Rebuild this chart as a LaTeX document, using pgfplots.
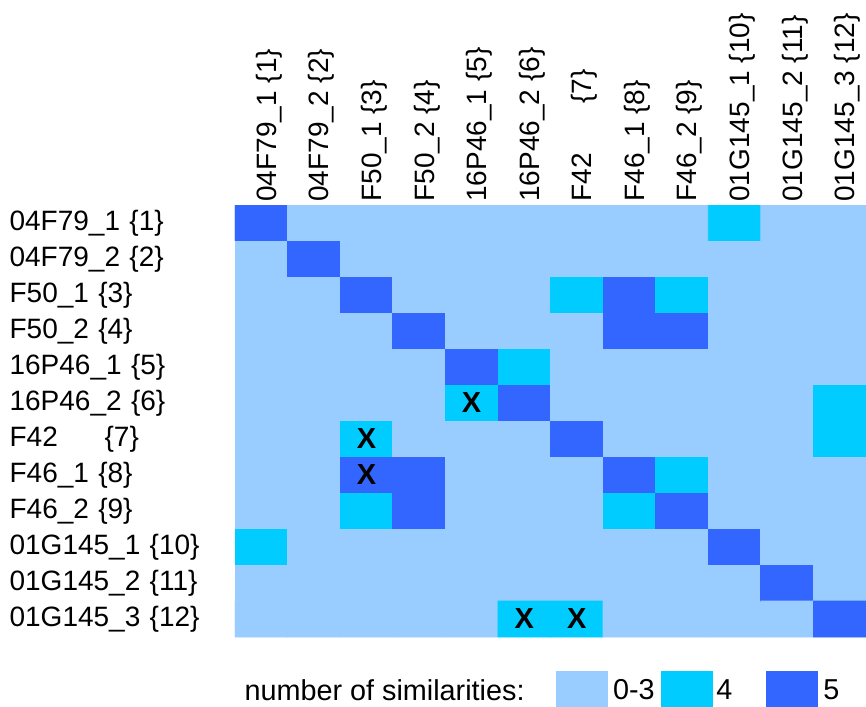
\documentclass[border=0pt]{standalone}
\usepackage{fontspec}
\setmainfont{Liberation Sans}
\usepackage{pgfplots}
\usepackage{pgfplotstable}
\pgfplotsset{compat=1.18}
\definecolor{cLow}{RGB}{153,204,255}
\definecolor{cMid}{RGB}{0,204,255}
\definecolor{cHigh}{RGB}{51,102,255}
\newcommand{\fsz}{\fontsize{14}{16.8}\selectfont}
% c: 0 = 0-3 similarities, 1 = 4, 2 = 5
\pgfplotstableread[row sep=\\]{
x y c\\
1 1 2\\ 2 1 0\\ 3 1 0\\ 4 1 0\\ 5 1 0\\ 6 1 0\\ 7 1 0\\ 8 1 0\\ 9 1 0\\ 10 1 1\\ 11 1 0\\ 12 1 0\\
1 2 0\\ 2 2 2\\ 3 2 0\\ 4 2 0\\ 5 2 0\\ 6 2 0\\ 7 2 0\\ 8 2 0\\ 9 2 0\\ 10 2 0\\ 11 2 0\\ 12 2 0\\
1 3 0\\ 2 3 0\\ 3 3 2\\ 4 3 0\\ 5 3 0\\ 6 3 0\\ 7 3 1\\ 8 3 2\\ 9 3 1\\ 10 3 0\\ 11 3 0\\ 12 3 0\\
1 4 0\\ 2 4 0\\ 3 4 0\\ 4 4 2\\ 5 4 0\\ 6 4 0\\ 7 4 0\\ 8 4 2\\ 9 4 2\\ 10 4 0\\ 11 4 0\\ 12 4 0\\
1 5 0\\ 2 5 0\\ 3 5 0\\ 4 5 0\\ 5 5 2\\ 6 5 1\\ 7 5 0\\ 8 5 0\\ 9 5 0\\ 10 5 0\\ 11 5 0\\ 12 5 0\\
1 6 0\\ 2 6 0\\ 3 6 0\\ 4 6 0\\ 5 6 1\\ 6 6 2\\ 7 6 0\\ 8 6 0\\ 9 6 0\\ 10 6 0\\ 11 6 0\\ 12 6 1\\
1 7 0\\ 2 7 0\\ 3 7 1\\ 4 7 0\\ 5 7 0\\ 6 7 0\\ 7 7 2\\ 8 7 0\\ 9 7 0\\ 10 7 0\\ 11 7 0\\ 12 7 1\\
1 8 0\\ 2 8 0\\ 3 8 2\\ 4 8 2\\ 5 8 0\\ 6 8 0\\ 7 8 0\\ 8 8 2\\ 9 8 1\\ 10 8 0\\ 11 8 0\\ 12 8 0\\
1 9 0\\ 2 9 0\\ 3 9 1\\ 4 9 2\\ 5 9 0\\ 6 9 0\\ 7 9 0\\ 8 9 1\\ 9 9 2\\ 10 9 0\\ 11 9 0\\ 12 9 0\\
1 10 1\\ 2 10 0\\ 3 10 0\\ 4 10 0\\ 5 10 0\\ 6 10 0\\ 7 10 0\\ 8 10 0\\ 9 10 0\\ 10 10 2\\ 11 10 0\\ 12 10 0\\
1 11 0\\ 2 11 0\\ 3 11 0\\ 4 11 0\\ 5 11 0\\ 6 11 0\\ 7 11 0\\ 8 11 0\\ 9 11 0\\ 10 11 0\\ 11 11 2\\ 12 11 0\\
1 12 0\\ 2 12 0\\ 3 12 0\\ 4 12 0\\ 5 12 0\\ 6 12 1\\ 7 12 1\\ 8 12 0\\ 9 12 0\\ 10 12 0\\ 11 12 0\\ 12 12 2\\
}\simdata
\begin{document}
\begin{tikzpicture}
\path[use as bounding box] (-117.5pt,-34.5pt) rectangle (315.5pt,318.5pt);
\begin{axis}[
  scale only axis, width=315.5pt, height=216pt,
  xmin=0.5, xmax=12.5, ymin=0.5, ymax=12.5, y dir=reverse,
  enlargelimits=false,
  axis line style={draw=none}, major tick length=0pt, tick style={draw=none},
  xtick={1,...,12}, ytick={1,...,12},
  xticklabel pos=right,
  xticklabels={04F79\_1 \{1\}, 04F79\_2 \{2\}, F50\_1 \{3\}, F50\_2 \{4\}, 16P46\_1 \{5\}, 16P46\_2 \{6\}, F42\hspace{25pt}\{7\}, F46\_1 \{8\}, F46\_2 \{9\}, 01G145\_1 \{10\}, 01G145\_2 \{11\}, 01G145\_3 \{12\}},
  yticklabels={04F79\_1 \{1\}, 04F79\_2 \{2\}, F50\_1 \{3\}, F50\_2 \{4\}, 16P46\_1 \{5\}, 16P46\_2 \{6\}, F42\hspace{23.4pt}\{7\}, F46\_1 \{8\}, F46\_2 \{9\}, 01G145\_1 \{10\}, 01G145\_2 \{11\}, 01G145\_3 \{12\}},
  xticklabel style={font=\fsz, inner sep=0pt, xshift=7.5pt, yshift=1.5pt, rotate=90, anchor=base west},
  yticklabel style={font=\fsz, inner sep=0pt, anchor=east, text width=110pt, align=left, xshift=-2.5pt},
  colormap={sim}{rgb255=(153,204,255) rgb255=(0,204,255) rgb255=(51,102,255)},
  legend columns=4,
  legend style={draw=none, fill=none, at={(1,0)}, anchor=south east, xshift=2.5pt, yshift=-33pt,
    inner sep=0pt, outer sep=0pt, font=\fontsize{14.4}{17}\selectfont, nodes={inner sep=0pt}, column sep=0pt},
]
\addplot[forget plot, matrix plot*, mesh/cols=12, point meta=explicit, colormap access=direct]
  table[x=x, y=y, meta=c] {\simdata};
\addplot[forget plot, draw=none, mark=none, nodes near coords={X},
  every node near coord/.append style={font=\fontsize{14.5}{17}\selectfont\bfseries, anchor=center, inner sep=0pt}]
  coordinates {(5,6) (3,7) (3,8) (6,12) (7,12)};
\addlegendimage{empty legend}
\addlegendentry{\makebox[155.5pt][l]{number of similarities:}}
\addlegendimage{legend image code/.code={\fill[cLow, draw=none, overlay] (0pt,-8pt) rectangle (26.29pt,10pt); \path[draw=none, fill=none] (0pt,-3pt) rectangle (26.29pt,10pt);}}
\addlegendentry{\makebox[26.29pt][l]{\hspace{2.5pt}0-3}}
\addlegendimage{legend image code/.code={\fill[cMid, draw=none, overlay] (0pt,-8pt) rectangle (26.29pt,10pt); \path[draw=none, fill=none] (0pt,-3pt) rectangle (26.29pt,10pt);}}
\addlegendentry{\makebox[26.29pt][l]{\hspace{1.5pt}4}}
\addlegendimage{legend image code/.code={\fill[cHigh, draw=none, overlay] (0pt,-8pt) rectangle (26.29pt,10pt); \path[draw=none, fill=none] (0pt,-3pt) rectangle (26.29pt,10pt);}}
\addlegendentry{\makebox[26.29pt][l]{\hspace{2.5pt}5}}
\end{axis}
\end{tikzpicture}
\end{document}
